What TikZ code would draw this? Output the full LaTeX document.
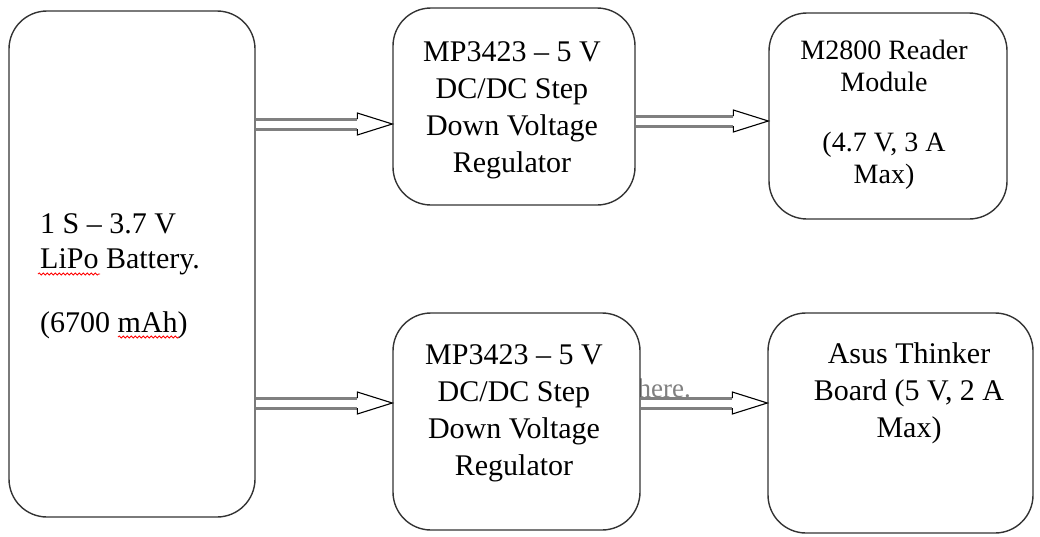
\documentclass[tikz,border=0pt]{standalone}
\usepackage{fontspec}
\setmainfont{Liberation Serif}
\usetikzlibrary{calc,decorations.pathmorphing}
\newcommand\blockarrow[2]{%
  \draw[shaft] let \p1=(#1), \p2=(#2) in
    (\x1,\y2+5pt) -- (\x2-35pt,\y2+5pt)
    (\x1,\y2-5pt) -- (\x2-35pt,\y2-5pt);
  \draw[head] let \p2=(#2) in
    (\x2-35pt,\y2+5pt) -- (\x2-35pt,\y2+11pt) -- (\x2,\y2) -- (\x2-35pt,\y2-11pt) -- (\x2-35pt,\y2-5pt);
}
\begin{document}
\begin{tikzpicture}[x=1pt,y=-1pt,
  box/.style={draw=black!80, line width=1.4pt, rounded corners=38pt, fill=white, inner sep=0pt},
  lbl/.style={align=center, font=\fontsize{30}{37}\selectfont, inner sep=0pt, anchor=base},
  shaft/.style={draw=black!50, line width=3pt},
  head/.style={draw=black, line width=1.1pt, line join=miter},
  spell/.style={draw=red, line width=0.8pt, decorate, decoration={snake, amplitude=1.1pt, segment length=4pt}}
]
\useasboundingbox (0,0) rectangle (1040,536);

% faint text partly hidden behind the lower regulator
\node[anchor=base east, inner sep=0pt, text=black!50, font=\fontsize{27}{30}\selectfont] (hint) at (691,397) {here.};

% boxes
\node[box, minimum width=246pt, minimum height=506pt] (bat) at (132,264) {};
\node[box, minimum width=242pt, minimum height=197pt] (reg1) at (514,106.5) {};
\node[box, minimum width=238pt, minimum height=206pt] (mod) at (888,116) {};
\node[box, minimum width=247pt, minimum height=217pt] (reg2) at (516.5,421.5) {};
\node[box, minimum width=265pt, minimum height=220pt] (asus) at (900.5,423) {};

% texts (anchored at the baseline of their last line)
\node[lbl, anchor=base west, align=left, font=\fontsize{30}{35}\selectfont] (battxt) at (40,332)
  {1 S – 3.7 V\\LiPo Battery.\\[29pt](6700 mAh)};
\node[lbl] (reg1txt) at (512,172) {MP3423 – 5 V\\DC/DC Step\\Down Voltage\\Regulator};
\node[lbl] (reg2txt) at (514,475) {MP3423 – 5 V\\DC/DC Step\\Down Voltage\\Regulator};
\node[lbl, font=\fontsize{28}{32}\selectfont] (modtxt) at (884,183) {M2800 Reader\\Module\\[28pt](4.7 V, 3 A\\Max)};
\node[lbl] (asustxt) at (909,437) {Asus Thinker\\Board (5 V, 2 A\\Max)};

% spell-check underlines
\draw[spell] (38,274) -- (100,274);
\draw[spell] (118,337) -- (179,337);

% connectors
\coordinate (ya) at (0,124);
\coordinate (yb) at (0,121);
\coordinate (yc) at (0,403);
\coordinate (a1s) at (bat.east |- ya);
\coordinate (a1t) at (reg1.west |- ya);
\coordinate (a2s) at (reg1.east |- yb);
\coordinate (a2t) at (mod.west |- yb);
\coordinate (a3s) at (bat.east |- yc);
\coordinate (a3t) at (reg2.west |- yc);
\coordinate (a4s) at (reg2.east |- yc);
\coordinate (a4t) at (asus.west |- yc);
\blockarrow{a1s}{a1t}
\blockarrow{a2s}{a2t}
\blockarrow{a3s}{a3t}
\blockarrow{a4s}{a4t}
\end{tikzpicture}
\end{document}
